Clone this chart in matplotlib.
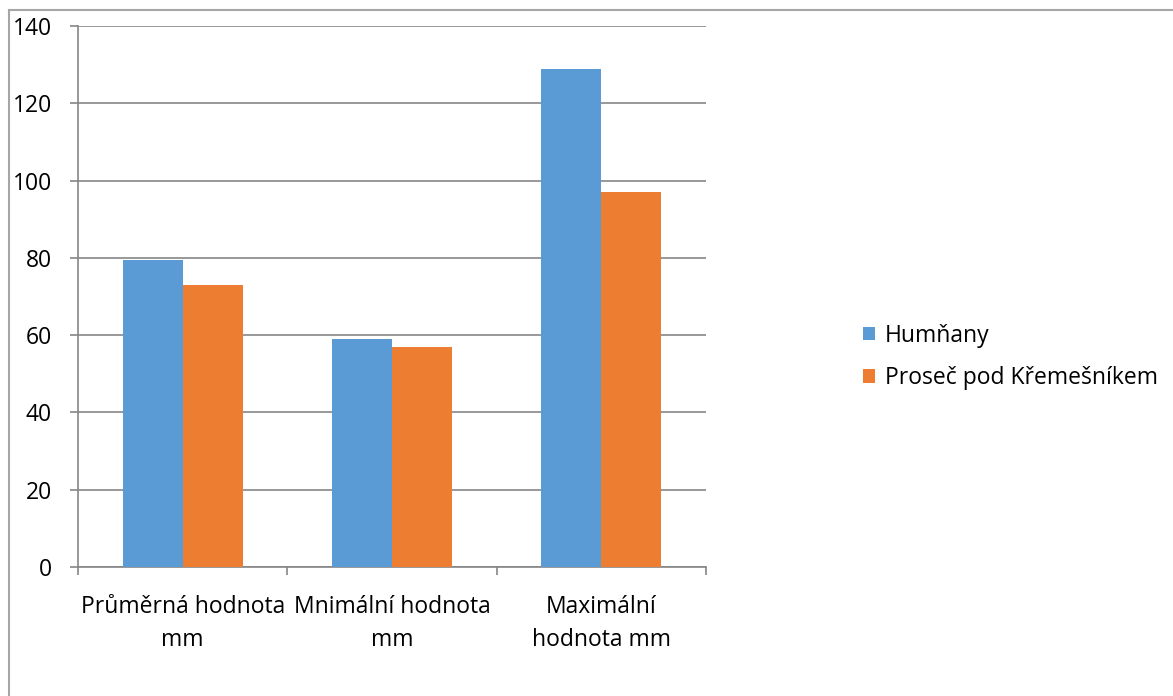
import matplotlib.pyplot as plt
from matplotlib.lines import Line2D
import numpy as np

plt.rcParams['font.family'] = ['Open Sans', 'DejaVu Sans']

categories = ['Průměrná hodnota\nmm', 'Mnimální hodnota\nmm', 'Maximální\nhodnota mm']
humnany = [79.5, 59, 129]
prosec = [73, 57, 97]
series_names = ['Humňany', 'Proseč pod Křemešníkem']

blue = '#5B9BD5'
orange = '#ED7D31'
grid_col = '#868686'
fs = 16.5

W, H = 1173, 696
fig = plt.figure(figsize=(W / 100, H / 100), dpi=100)
ax = fig.add_axes([78 / W, 1 - 567 / H, (706 - 78) / W, (567 - 26) / H])

x = np.arange(len(categories)) + 0.5
bw = 0.287
ax.bar(x - bw / 2, humnany, bw, color=blue, label=series_names[0], zorder=3)
ax.bar(x + bw / 2, prosec, bw, color=orange, label=series_names[1], zorder=3)

ax.set_xlim(0, 3)
ax.set_ylim(0, 140)
ax.set_yticks(np.arange(0, 141, 20))
ax.yaxis.grid(True, color=grid_col, linewidth=1.2, zorder=0)

# category ticks sit on the boundaries between groups
ax.set_xticks([0, 1, 2, 3])
ax.set_xticklabels([])
ax.set_xticks(x, minor=True)
ax.set_xticklabels(categories, minor=True, fontsize=fs, linespacing=1.5)
ax.tick_params(axis='x', which='minor', length=0, pad=20)
ax.tick_params(axis='x', which='major', length=5.8, color=grid_col, width=1.2)
ax.tick_params(axis='y', length=5.8, color=grid_col, width=1.2, labelsize=fs, pad=13)

for side in ['top', 'right']:
    ax.spines[side].set_visible(False)
for side in ['left', 'bottom']:
    ax.spines[side].set_color(grid_col)
    ax.spines[side].set_linewidth(1.2)

leg = fig.legend(loc='center left', bbox_to_anchor=(863 / W, 1 - 357 / H),
                 frameon=False, fontsize=fs, borderpad=0, borderaxespad=0,
                 handlelength=0.52, handleheight=0.52,
                 handletextpad=0.44, labelspacing=0.8)

# outer chart border
border = '#A6A6A6'
fig.add_artist(Line2D([8.5 / W, 8.5 / W], [0, 1 - 10 / H], transform=fig.transFigure,
                      color=border, linewidth=1.5))
fig.add_artist(Line2D([8.5 / W, 1], [1 - 10 / H, 1 - 10 / H], transform=fig.transFigure,
                      color=border, linewidth=1.5))

fig.savefig('out.png', dpi=100)
